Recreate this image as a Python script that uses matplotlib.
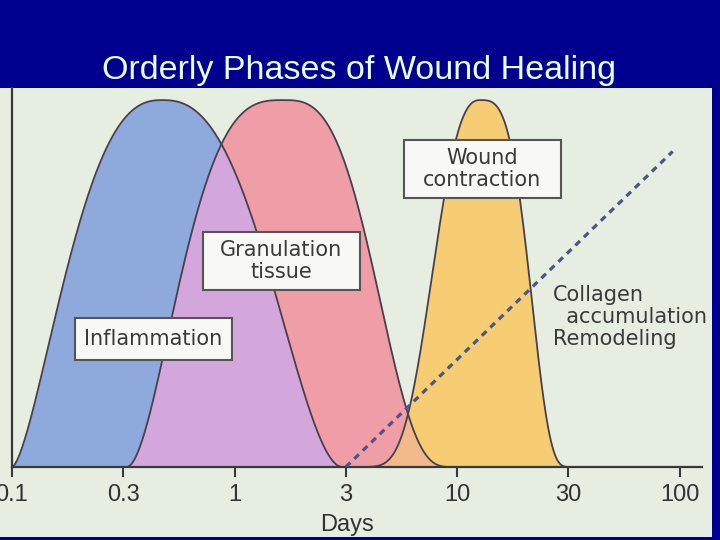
import numpy as np
import matplotlib
matplotlib.use("Agg")
import matplotlib.pyplot as plt
from matplotlib.patches import Rectangle
from matplotlib.ticker import NullLocator

plt.rcParams["font.family"] = ["Liberation Sans", "DejaVu Sans"]

TITLE = "Orderly Phases of Wound Healing"

# each phase is a bump over log(days): where it starts, peaks and ends,
# plus the curvature of its rising (left) and falling (right) side
PHASES = ["Inflammation", "Granulation\ntissue", "Wound\ncontraction"]
START_DAY = [0.1, 0.327, 3.19]
PEAK_DAY = [0.473, 1.66, 12.7]
END_DAY = [3.05, 9.77, 33.1]
P_LEFT = [2.5, 3.0, 2.5]
Q_LEFT = [1.6, 2.0, 8.0]
P_RIGHT = [2.5, 3.0, 3.3]
Q_RIGHT = [2.0, 4.0, 5.0]
PEAK_LEVEL = [1.0, 1.0, 1.0]

# collagen accumulation / remodeling (dashed, straight rise)
COLLAGEN_DAYS = [3.16, 93.0]
COLLAGEN_LEVEL = [0.0, 0.86]
COLLAGEN_LABEL = "Collagen\n  accumulation\nRemodeling"

TICK_DAYS = [0.1, 0.316, 1.0, 3.16, 10.0, 31.6, 100.0]
TICK_LABELS = ["0.1", "0.3", "1", "3", "10", "30", "100"]

NAVY = "#00008f"
PANEL = "#e5eee1"
FILL = ["#8eaadc", "#ef9ea8", "#f6cd72"]
OVERLAP = ["#d4a7dc", "#f2ba8b"]  # blue+pink, pink+yellow
EDGE = "#4a3f4c"
DASH = "#4c548c"


def bump(days, i):
    lx = np.log10(days)
    l0, lp, l1 = np.log10([START_DAY[i], PEAK_DAY[i], END_DAY[i]])
    left = lx < lp
    t = np.where(left, (lp - lx) / (lp - l0), (lx - lp) / (l1 - lp))
    p = np.where(left, P_LEFT[i], P_RIGHT[i])
    q = np.where(left, Q_LEFT[i], Q_RIGHT[i])
    base = np.clip(1 - np.clip(t, 0, 1) ** p, 0, 1)
    return PEAK_LEVEL[i] * base ** q


fig = plt.figure(figsize=(7.2, 5.4), dpi=100, facecolor=NAVY)
fig.patches.append(Rectangle((0, 3 / 540), 712 / 720, 449 / 540,
                             transform=fig.transFigure, facecolor=PANEL,
                             edgecolor="none", zorder=-5))
fig.text(0.498, 1 - 79 / 540, TITLE, ha="center", va="baseline",
         color="#e6ffff", fontsize=24.5)

ax = fig.add_axes([12 / 720, 73 / 540, 690 / 720, 379 / 540])
ax.set_zorder(2)
ax.set_facecolor("none")
ax.set_xscale("log")
ax.set_xlim(0.1, 126)
ax.set_ylim(0, 1.033)

x = np.logspace(-1, np.log10(126), 1200)
curves = [bump(x, i) for i in range(len(PHASES))]
blue, pink, yellow = curves

ax.fill_between(x, 0, blue, color=FILL[0], lw=0, zorder=1)
ax.fill_between(x, 0, pink, color=FILL[1], lw=0, zorder=1.1)
ax.fill_between(x, 0, np.minimum(blue, pink), color=OVERLAP[0], lw=0, zorder=1.2)
ax.fill_between(x, 0, yellow, color=FILL[2], lw=0, zorder=1.3)
ax.fill_between(x, 0, np.minimum(pink, yellow), color=OVERLAP[1], lw=0, zorder=1.4)
for c in curves:
    ax.plot(x, c, color=EDGE, lw=1.3, zorder=2)

ax.plot(COLLAGEN_DAYS, COLLAGEN_LEVEL, color=DASH, lw=2.3,
        linestyle=(0, (2.0, 1.7)), zorder=3, solid_capstyle="butt")

# label boxes (axes fraction: x0, x1, y0, y1)
boxes = [(0.0913, 0.3188, 0.2823, 0.3931),
         (0.2768, 0.5043, 0.467, 0.620),
         (0.568, 0.7957, 0.7098, 0.8628)]
for name, (x0, x1, y0, y1) in zip(PHASES, boxes):
    ax.add_patch(Rectangle((x0, y0), x1 - x0, y1 - y0, transform=ax.transAxes,
                           facecolor="#f8f8f6", edgecolor="#555555", lw=1.5, zorder=5))
    ax.text((x0 + x1) / 2, (y0 + y1) / 2, name, transform=ax.transAxes,
            ha="center", va="center", fontsize=15, color="#3a3a3a",
            family="DejaVu Sans", linespacing=1.1, zorder=6)
ax.text(0.784, 0.396, COLLAGEN_LABEL, transform=ax.transAxes, ha="left",
        va="center", fontsize=15, color="#3a3a3a", family="DejaVu Sans",
        linespacing=1.15, zorder=6)

for s in ["top", "right"]:
    ax.spines[s].set_visible(False)
for s in ["left", "bottom"]:
    ax.spines[s].set_color("#3a3a3a")
    ax.spines[s].set_linewidth(1.6)
ax.set_yticks([])
ax.set_xticks(TICK_DAYS)
ax.set_xticklabels(TICK_LABELS)
ax.xaxis.set_minor_locator(NullLocator())
ax.tick_params(axis="x", direction="out", length=7, width=1.5, color="#3a3a3a",
               labelsize=17, labelcolor="#333333", pad=5)
ax.set_xlabel("Days", fontsize=17, color="#333333")
ax.xaxis.set_label_coords(0.486, -0.124)

fig.savefig("out.png", dpi=100, facecolor=NAVY)
